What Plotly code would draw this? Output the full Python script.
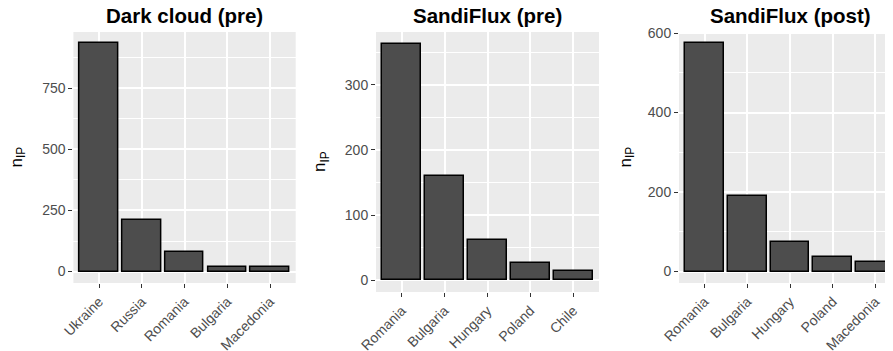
import plotly.graph_objects as go

W, H = 893, 351
OFF = 8  # page body margin shifts the figure by 8px right and down

titles = ["Dark cloud (pre)", "SandiFlux (pre)", "SandiFlux (post)"]

cats_dark_pre = ["Ukraine", "Russia", "Romania", "Bulgaria", "Macedonia"]
vals_dark_pre = [933, 209, 79, 18, 17]

cats_sandi_pre = ["Romania", "Bulgaria", "Hungary", "Poland", "Chile"]
vals_sandi_pre = [363, 160, 62, 27, 14]

cats_sandi_post = ["Romania", "Bulgaria", "Hungary", "Poland", "Macedonia"]
vals_sandi_post = [574, 189, 75, 37, 23]

y_ticks = [[0, 250, 500, 750], [0, 100, 200, 300], [0, 200, 400, 600]]
y_minor = [125, 50, 100]

# layout in screen pixels (as seen in the window)
x_dom_px = [(73.4, 295.7), (376, 599), (679, 901)]
y_dom_px = [(32, 283), (32, 292), (32, 283)]
title_cx = [184.5, 487.5, 790.3]
ytitle_x = [17, 321, 626]


def px_x(p):
    return (p - OFF) / W


def px_y(p):
    return 1 - (p - OFF) / H


FONT = "Liberation Sans, Arial, Helvetica, sans-serif"
BG = "#EBEBEB"

fig = go.Figure()
data = [(cats_dark_pre, vals_dark_pre), (cats_sandi_pre, vals_sandi_pre),
        (cats_sandi_post, vals_sandi_post)]

annotations = []
for i, (cats, vals) in enumerate(data):
    sfx = "" if i == 0 else str(i + 1)
    fig.add_trace(go.Bar(
        x=cats, y=vals, width=0.9,
        marker=dict(color="#4D4D4D", line=dict(color="black", width=1.5)),
        xaxis="x" + sfx, yaxis="y" + sfx, showlegend=False,
    ))
    ymax = max(vals)
    pad = 0.05 * ymax
    xd = [px_x(x_dom_px[i][0]), min(1.0, px_x(x_dom_px[i][1]))]
    yd = [px_y(y_dom_px[i][1]), px_y(y_dom_px[i][0])]
    fig.layout["xaxis" + sfx] = dict(
        domain=xd, anchor="y" + sfx, type="category",
        range=[-0.6, 4.6], showgrid=True, gridcolor="white", gridwidth=1.7,
        ticks="outside", ticklen=4, tickwidth=1.1, tickcolor="#333333",
        tickangle=-45, tickfont=dict(family=FONT, size=14, color="#4D4D4D"),
        showline=False, zeroline=False, fixedrange=True, automargin=False,
    )
    fig.layout["yaxis" + sfx] = dict(
        domain=yd, anchor="x" + sfx, range=[-pad, ymax + pad],
        tickmode="array", tickvals=y_ticks[i],
        showgrid=True, gridcolor="white", gridwidth=1.7,
        minor=dict(dtick=y_minor[i], tick0=0, showgrid=True,
                   gridcolor="white", gridwidth=0.85, ticks=""),
        ticks="outside", ticklen=4, tickwidth=1.1, tickcolor="#333333",
        tickfont=dict(family=FONT, size=14, color="#4D4D4D"),
        showline=False, zeroline=False, fixedrange=True, automargin=False,
    )
    annotations.append(dict(
        text="<b>" + titles[i] + "</b>", xref="paper", yref="paper",
        x=px_x(title_cx[i]), y=px_y(16), xanchor="center", yanchor="middle",
        showarrow=False, font=dict(family=FONT, size=20.5, color="black"),
    ))
    annotations.append(dict(
        text="n<sub>IP</sub>", xref="paper", yref="paper",
        x=px_x(ytitle_x[i]), y=(yd[0] + yd[1]) / 2, textangle=-90,
        xanchor="center", yanchor="middle", showarrow=False,
        font=dict(family=FONT, size=17, color="black"),
    ))

fig.update_layout(
    width=W, height=H, margin=dict(l=0, r=0, t=0, b=0, autoexpand=False),
    paper_bgcolor="white", plot_bgcolor=BG, bargap=0,
    annotations=annotations,
)

fig.write_html("out.html")
